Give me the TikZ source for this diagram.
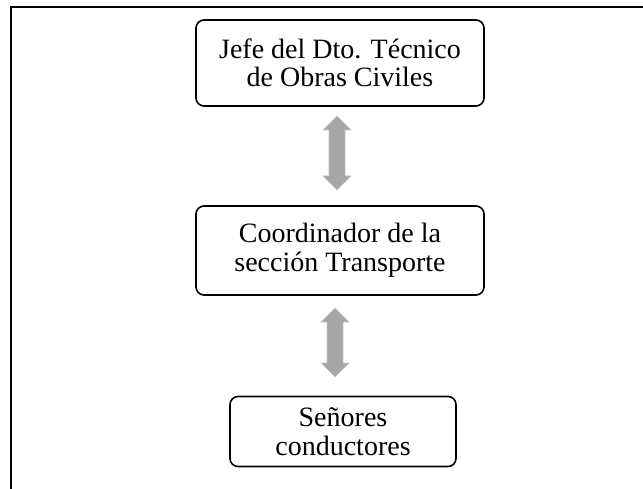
\documentclass[tikz,border=0pt]{standalone}
\usepackage{fontspec}
\setmainfont{Liberation Serif}
\newcommand\fatarrow[3]{%
  \filldraw[dblarrow] (#1,#2) -- ++(14,-14) -- ++(-6,0) -- (#1+8,#3+14) -- ++(6,0)
    -- (#1,#3) -- ++(-14,14) -- ++(6,0) -- (#1-8,#2-14) -- ++(-6,0) -- cycle;}
\begin{document}
\begin{tikzpicture}[x=1pt,y=1pt,
  box/.style={draw=black, line width=1.6pt, rounded corners=8pt, align=center,
    font=\fontsize{28}{28.5}\selectfont, inner sep=0pt},
  dblarrow/.style={fill=arrowgray, draw=arrowedge, line width=0.6pt}]
\definecolor{arrowgray}{HTML}{A6A6A6}
\definecolor{arrowedge}{HTML}{C4C4C4}
\useasboundingbox (0,0) rectangle (643,-489);
\draw[line width=1.6pt] (11,-489) -- (11,-7) -- (643,-7);
\node[box, minimum width=288pt, minimum height=86pt] (jefe) at (340,-63) {Jefe del Dto. Técnico\\de Obras Civiles};
\node[box, minimum width=288pt, minimum height=89pt] (coord) at (340,-250.5) {Coordinador de la\\sección Transporte};
\node[box, minimum width=226pt, minimum height=70pt] (sen) at (343,-431.5) {Señores\\conductores};
\fatarrow{337}{-116}{-190}
\fatarrow{335}{-308}{-377}
\end{tikzpicture}
\end{document}
